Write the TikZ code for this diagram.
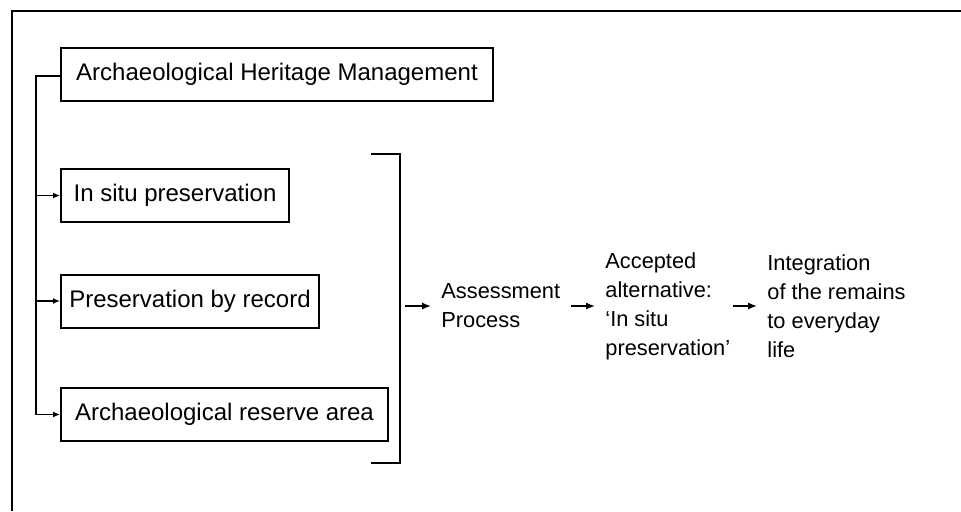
\documentclass[tikz,border=0pt]{standalone}
\usepackage{fontspec}
\setmainfont{Liberation Sans}
\usetikzlibrary{arrows.meta}
\begin{document}
\begin{tikzpicture}[x=0.5pt, y=-0.5pt,
  box/.style={draw, line width=1pt, minimum height=26.5pt, inner sep=0pt, anchor=west, font=\fontsize{12}{14.5}\selectfont},
  txt/.style={align=left, inner xsep=5pt, inner ysep=0pt, anchor=west, font=\fontsize{10.9}{14.5}\selectfont},
  trunk/.style={line width=0.6pt, -{Latex[length=3.5pt,width=3pt]}},
  flow/.style={line width=0.8pt, -{Latex[length=4.5pt,width=3.6pt]}}]
\useasboundingbox (0,0) rectangle (961,511);
\draw[line width=1.4pt] (961,11) -- (12,11) -- (12,511);
\node[box, minimum width=216pt] (ahm) at (60,74.5){Archaeological Heritage Management};
\node[box, minimum width=114pt] (situ) at (60,195.5){In situ preservation};
\node[box, minimum width=129pt] (rec) at (60,301){Preservation by record};
\node[box, minimum width=163.5pt] (res) at (60,414.5){Archaeological reserve area};
\coordinate (spine) at (36,76);
\draw[trunk](ahm.west |- spine) -- (spine) |- (res.west);
\draw[trunk](spine |- situ.west) -- (situ.west);
\draw[trunk](spine |- rec.west) -- (rec.west);
\coordinate (brtop) at (371,154);
\coordinate (brbot) at (371,463);
\draw[line width=1pt](brtop) -- ++(29,0) |- (brbot);
\coordinate (brout) at (405,306);
\node[txt] (assess) at (431,306){Assessment\\Process};
\node[txt] (acc) at (595,306){Accepted\\alternative:\\‘In situ\\preservation’};
\node[txt] (integ) at (757,306){Integration\\of the remains\\to everyday\\life};
\draw[flow](brout) -- (assess.west);
\draw[flow](assess.east) -- (acc.west);
\draw[flow, shorten <=-4pt](acc.east) -- (integ.west);
\end{tikzpicture}
\end{document}
